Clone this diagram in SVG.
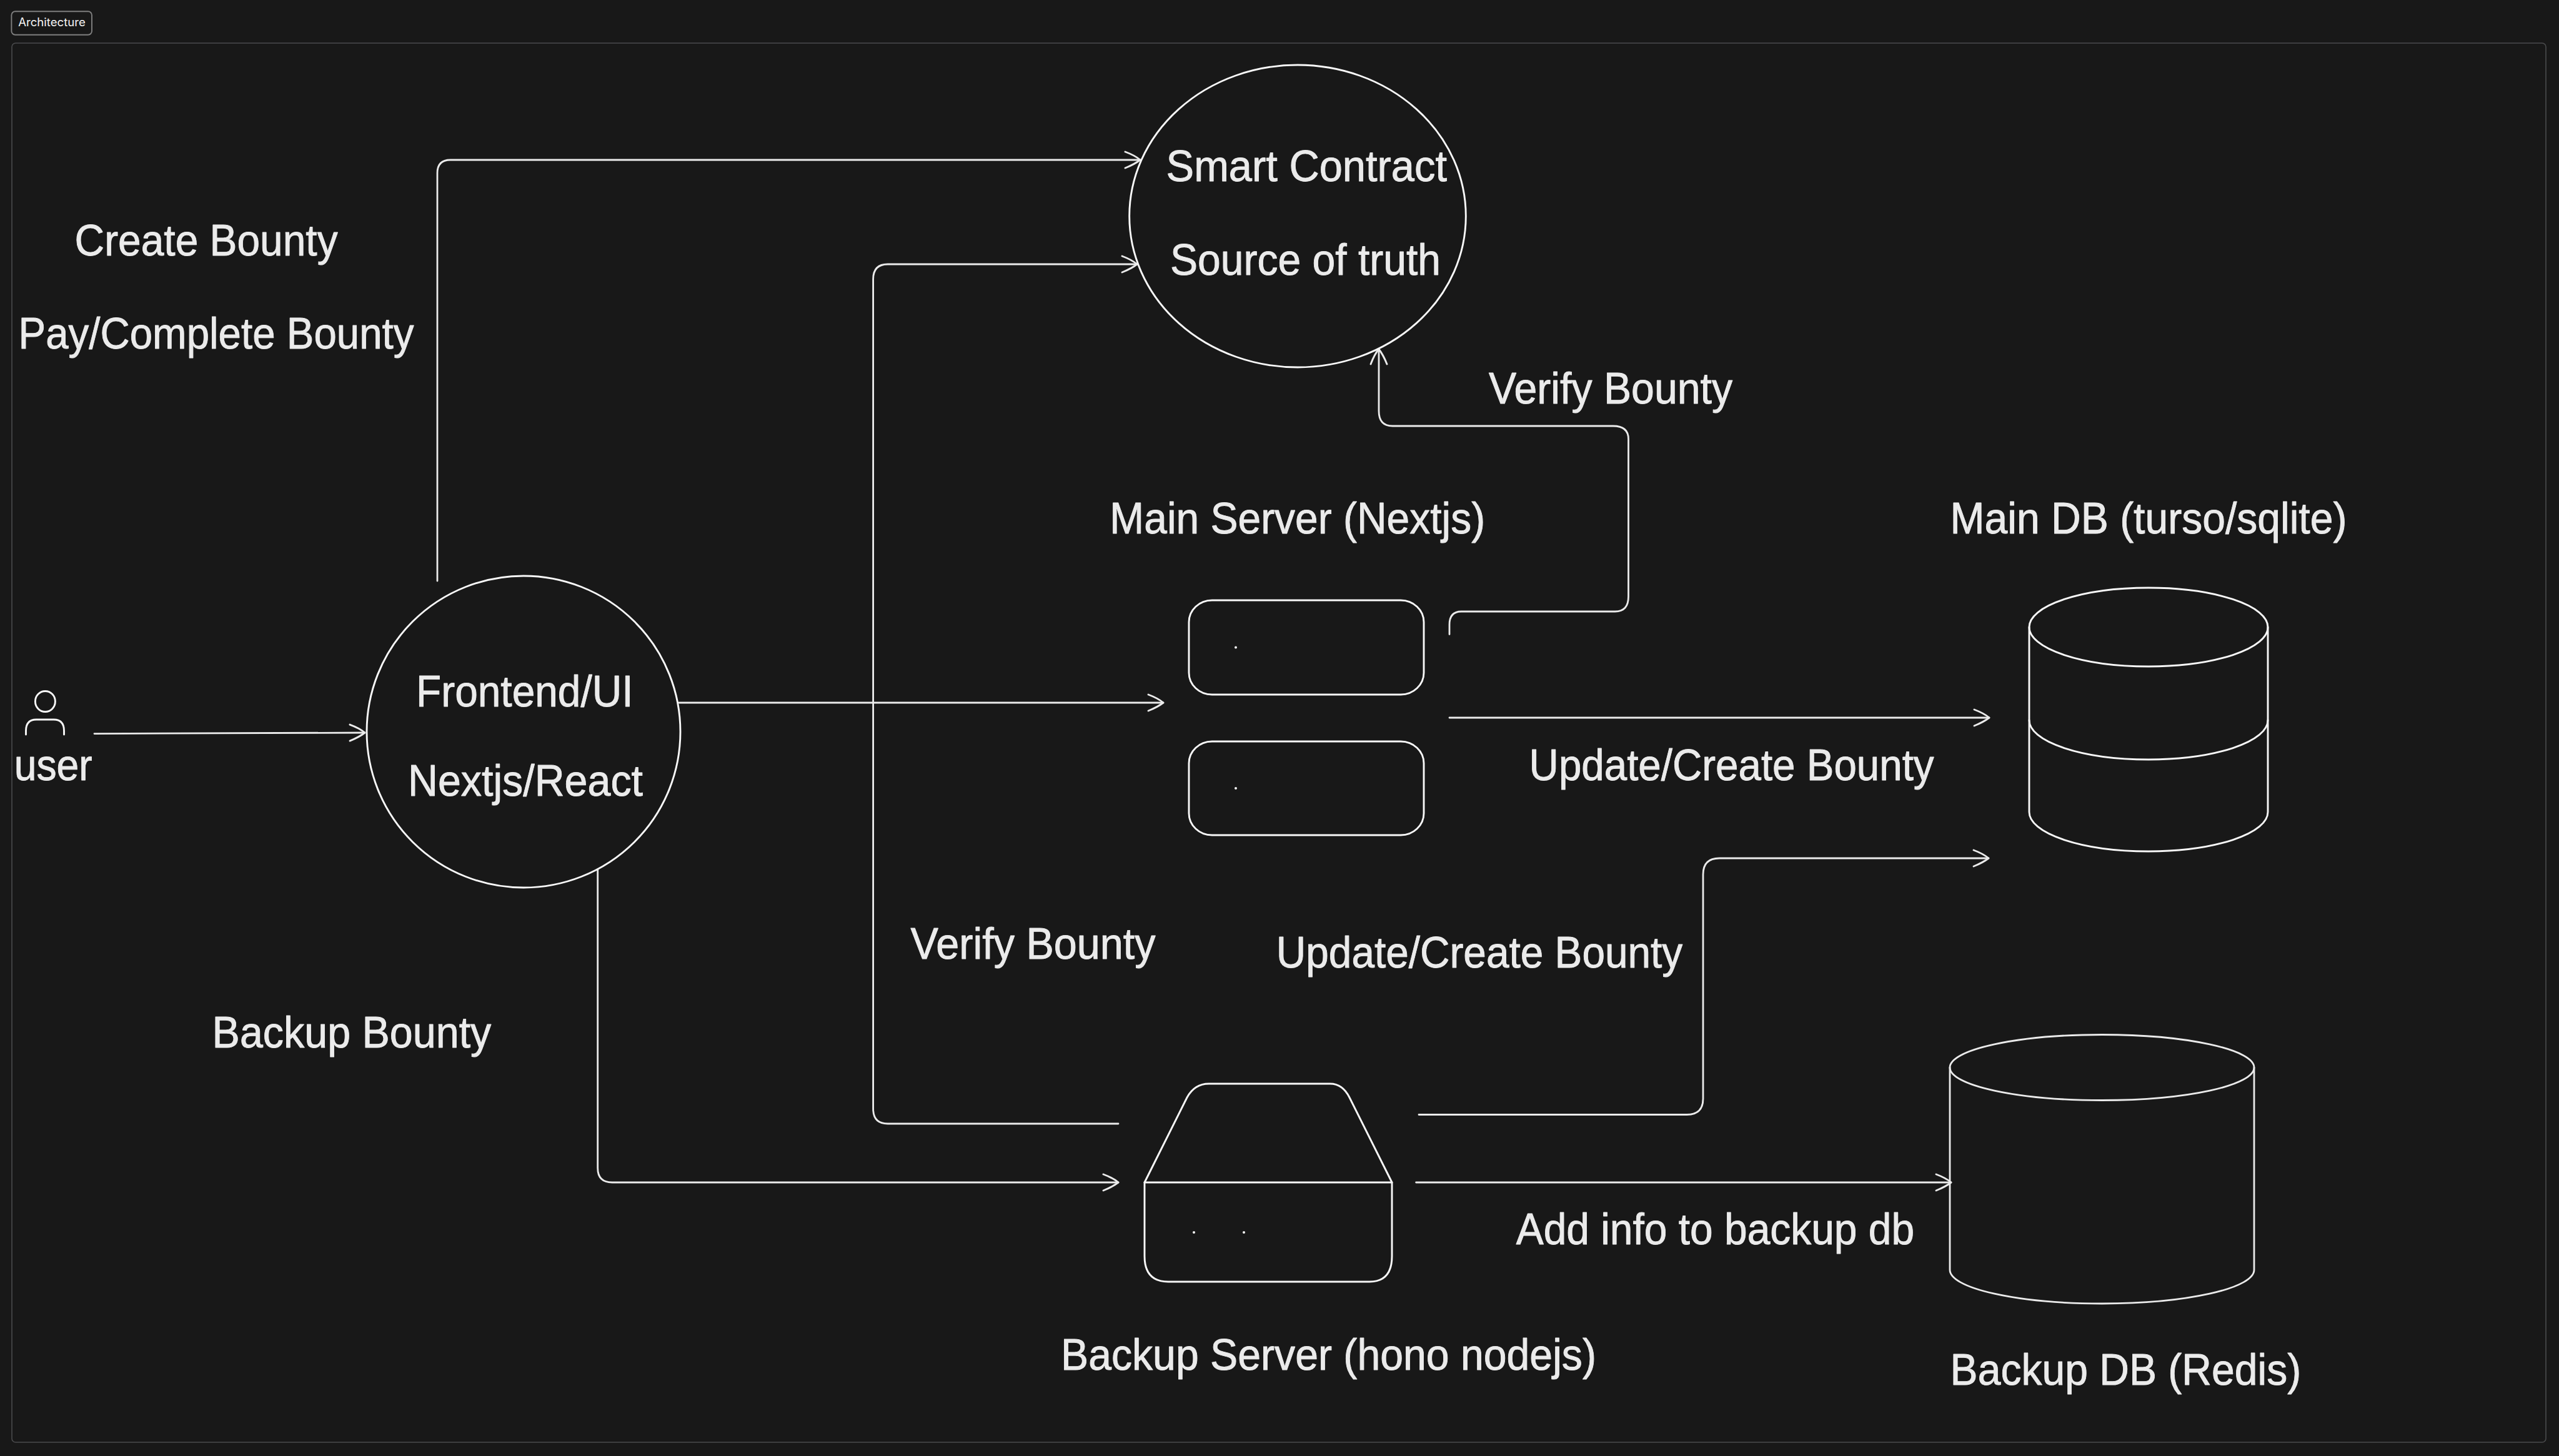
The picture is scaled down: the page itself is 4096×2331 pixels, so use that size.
<svg xmlns="http://www.w3.org/2000/svg" width="4096" height="2331" viewBox="0 0 4096 2331">
<style>
.s{fill:none;stroke:#f8f8f8;stroke-width:2.9;stroke-linecap:round;stroke-linejoin:round}
.c{fill:none;stroke:#ebebeb;stroke-width:2.8;stroke-linecap:round;stroke-linejoin:round}
.d{fill:#f8f8f8}
.t{font-family:"Liberation Sans",Arial,sans-serif;font-size:70px;fill:#ebebeb;stroke:#ebebeb;stroke-width:.9;stroke-linejoin:round}
</style>
<defs>
<marker id="head" markerUnits="userSpaceOnUse" viewBox="-32 -20 36 40" refX="0" refY="0" markerWidth="36" markerHeight="40" orient="auto" overflow="visible">
<path d="M-24,-13 Q-8,-7 0,0 Q-9,7 -24,13" fill="none" stroke="#ebebeb" stroke-width="2.9" stroke-linecap="round" stroke-linejoin="round"/>
</marker>
</defs>
<rect width="4096" height="2331" fill="#181818"/>
<g id="frame">
<rect x="19" y="69" width="4056" height="2240" rx="6" fill="none" stroke="#4a4b4d" stroke-width="1.6"/>
<rect x="18.4" y="18.2" width="128.6" height="37.6" rx="6" fill="#181818" stroke="#7f7f7f" stroke-width="1.9"/>
<text x="29.2" y="41.7" font-family="Inter,&quot;Liberation Sans&quot;,sans-serif" font-size="18" fill="#f5f5f5" textLength="107.6" lengthAdjust="spacingAndGlyphs">Architecture</text>
</g>
<g id="connectors">
<path class="c" marker-end="url(#head)" d="M151,1174.6 L584,1173"/>
<path class="c" marker-end="url(#head)" d="M700,930 V277 Q700,256 721,256 H1825"/>
<path class="c" marker-end="url(#head)" d="M1790,1799 H1421 Q1397.6,1799 1397.6,1775 V447 Q1397.6,423 1421,423 H1820"/>
<path class="c" marker-end="url(#head)" d="M1087,1125 H1862"/>
<path class="c" marker-end="url(#head)" d="M956.7,1392 V1870 Q956.7,1893 980,1893 H1790"/>
<path class="c" marker-end="url(#head)" d="M2320,1015.6 V1000 Q2320,979 2339,979 H2585 Q2606.5,979 2606.5,955 V703 Q2606.5,682 2582,682 H2229 Q2207,682 2207,658 V559"/>
<path class="c" marker-end="url(#head)" d="M2320,1149 H3184"/>
<path class="c" marker-end="url(#head)" d="M2271,1784.5 H2700 Q2726,1784.5 2726,1759 V1400 Q2726,1374 2752,1374 H3183"/>
<path class="c" marker-end="url(#head)" d="M2266.6,1893 H3123"/>
</g>
<g id="user">
<ellipse class="s" cx="72.4" cy="1123" rx="16" ry="16.5"/>
<path class="s" d="M41.5,1176 V1170 Q41.5,1152 58,1152 H86 Q102.5,1152 102.5,1170 V1176"/>
<text class="t" x="22.7" y="1248.7" textLength="125" lengthAdjust="spacingAndGlyphs">user</text>
</g>
<g id="frontend">
<ellipse class="s" cx="838" cy="1171.5" rx="251" ry="249.5"/>
<text class="t" x="666" y="1131" textLength="347.6" lengthAdjust="spacingAndGlyphs">Frontend/UI</text>
<text class="t" x="653" y="1273.5" textLength="376" lengthAdjust="spacingAndGlyphs">Nextjs/React</text>
</g>
<g id="smart-contract">
<ellipse class="s" cx="2077" cy="346" rx="269.3" ry="242"/>
<text class="t" x="1866.6" y="290" textLength="449.4" lengthAdjust="spacingAndGlyphs">Smart Contract</text>
<text class="t" x="1873" y="439.5" textLength="433" lengthAdjust="spacingAndGlyphs">Source of truth</text>
</g>
<g id="main-server">
<rect class="s" x="1903" y="961" width="376" height="151" rx="37" ry="35"/>
<rect class="s" x="1903" y="1187" width="376" height="150" rx="37" ry="35"/>
<circle class="d" cx="1978" cy="1036.6" r="2"/>
<circle class="d" cx="1978" cy="1262" r="2"/>
<text class="t" x="1776.3" y="854" textLength="600.8" lengthAdjust="spacingAndGlyphs">Main Server (Nextjs)</text>
</g>
<g id="backup-server">
<path class="s" d="M1832,1893 L1900,1757 Q1912,1735 1935,1735 H2129 Q2149,1735 2160,1757 L2228,1893"/>
<path class="s" d="M1832,1893 H2228 V2011 Q2228,2052 2192,2052 H1870 Q1832,2052 1832,2011 Z"/>
<circle class="d" cx="1911" cy="1973" r="2"/>
<circle class="d" cx="1991" cy="1973" r="2"/>
<text class="t" x="1698" y="2193" textLength="857" lengthAdjust="spacingAndGlyphs">Backup Server (hono nodejs)</text>
</g>
<g id="main-db">
<ellipse class="s" cx="3439" cy="1004" rx="191" ry="63"/>
<path class="s" d="M3248,1004 V1300 A191,63 0 0 0 3630,1300 V1004"/>
<path class="s" d="M3248,1153 A191,63 0 0 0 3630,1153"/>
<text class="t" x="3121.6" y="854" textLength="634.8" lengthAdjust="spacingAndGlyphs">Main DB (turso/sqlite)</text>
</g>
<g id="backup-db">
<ellipse class="c" cx="3364.5" cy="1709" rx="243.5" ry="52.5"/>
<path class="c" d="M3121,1709 V2033 A243.5,54 0 0 0 3608,2033 V1709"/>
<text class="t" x="3121.6" y="2217" textLength="561.6" lengthAdjust="spacingAndGlyphs">Backup DB (Redis)</text>
</g>
<g id="labels">
<text class="t" x="119.6" y="408.7" textLength="421" lengthAdjust="spacingAndGlyphs">Create Bounty</text>
<text class="t" x="29.5" y="557.8" textLength="633" lengthAdjust="spacingAndGlyphs">Pay/Complete Bounty</text>
<text class="t" x="2383" y="646" textLength="390" lengthAdjust="spacingAndGlyphs">Verify Bounty</text>
<text class="t" x="2447.6" y="1248.6" textLength="648" lengthAdjust="spacingAndGlyphs">Update/Create Bounty</text>
<text class="t" x="1457.6" y="1535" textLength="392" lengthAdjust="spacingAndGlyphs">Verify Bounty</text>
<text class="t" x="2042.8" y="1549" textLength="650.4" lengthAdjust="spacingAndGlyphs">Update/Create Bounty</text>
<text class="t" x="339.6" y="1677" textLength="446.7" lengthAdjust="spacingAndGlyphs">Backup Bounty</text>
<text class="t" x="2426.7" y="1992" textLength="637.4" lengthAdjust="spacingAndGlyphs">Add info to backup db</text>
</g>
</svg>
